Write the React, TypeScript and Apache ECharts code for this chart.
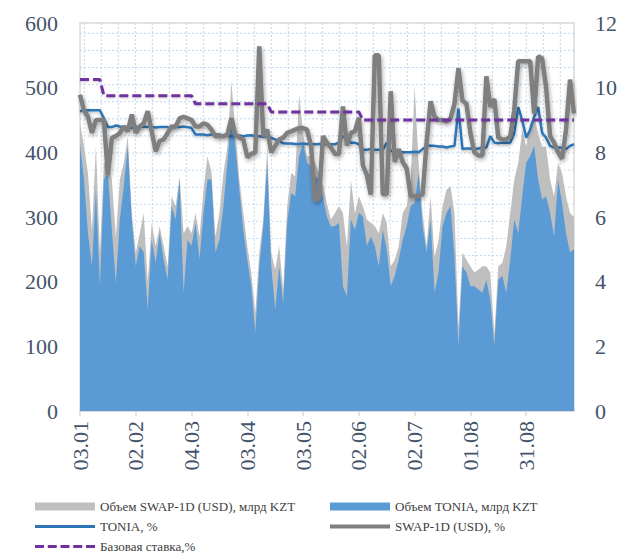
import React, { useEffect, useRef } from "react";
import * as echarts from "echarts";

const tickLabels = ["03.01", "02.02", "04.03", "03.04", "03.05", "02.06", "02.07", "01.08", "31.08"];

// Объем SWAP-1D (USD), млрд KZT (left axis)
const volSwap = [
  445, 410, 368, 280, 410, 245, 384, 384, 358, 270,
  358, 384, 425, 306, 245, 275, 306, 200, 291, 255,
  286, 255, 224, 332, 317, 363, 275, 286, 275, 306,
  270, 342, 394, 370, 270, 306, 368, 409, 510, 435,
  358, 306, 255, 214, 152, 245, 296, 409, 245, 219,
  255, 188, 317, 368, 363, 490, 430, 394, 394, 384,
  368, 350, 320, 296, 306, 317, 306, 255, 358, 306, 332,
  317, 296, 291, 286, 275, 306, 291, 224, 234, 255,
  306, 317, 358, 502, 384, 306, 255, 332, 239, 265,
  317, 342, 348, 306, 130, 245, 234, 224, 214, 219,
  224, 224, 214, 120, 224, 229, 255, 306, 358, 384,
  435, 409, 445, 456, 430, 409, 409, 358, 332, 384,
  368, 332, 306, 300,
];

// Объем TONIA, млрд KZT (left axis)
const volTonia = [
  412, 358, 275, 224, 342, 193, 358, 368, 280, 198,
  296, 348, 410, 296, 224, 255, 245, 157, 265, 229,
  275, 234, 203, 317, 296, 358, 183, 265, 255, 291,
  234, 306, 358, 358, 245, 265, 317, 384, 456, 410,
  342, 280, 234, 193, 121, 224, 286, 384, 224, 157,
  224, 167, 291, 337, 332, 394, 415, 384, 379, 363,
  358, 330, 300, 285, 286, 291, 193, 178, 296, 280, 306,
  301, 255, 270, 255, 224, 280, 250, 193, 209, 234,
  265, 286, 317, 322, 368, 286, 245, 296, 183, 214,
  286, 306, 317, 239, 100, 224, 214, 193, 193, 188,
  183, 203, 172, 100, 203, 209, 183, 234, 296, 275,
  332, 384, 394, 410, 358, 327, 332, 306, 270, 358,
  322, 275, 245, 250,
];

// TONIA, % (right axis)
const toniaRate = [
  9.27, 9.3, 9.3, 9.3, 9.3, 9.3,
  9.05, 8.78, 8.78, 8.83, 8.8,
  8.78, 8.78, 8.76, 8.78, 8.78, 8.8, 8.78, 8.78, 8.77, 8.78, 8.78, 8.78, 8.76, 8.78, 8.78, 8.8, 8.78,
  8.75,
  8.55, 8.55, 8.55, 8.53, 8.55, 8.55, 8.55, 8.52, 8.52, 8.5, 8.52, 8.52, 8.5, 8.52, 8.53,
  8.5, 8.5, 8.48, 8.5,
  8.45, 8.4, 8.35,
  8.28, 8.27, 8.27, 8.26, 8.26, 8.27, 8.26, 8.26, 8.25, 8.26, 8.26,
  8.26,
  8.25, 8.25,
  8.3, 8.5, 8.45, 8.3, 8.3, 8.25,
  8.08, 8.08, 8.1, 8.08, 8.08, 8.08,
  8.3, 8.05,
  8.0, 8.02, 8.0, 8.0, 8.0, 8.02, 8.0,
  8.1,
  8.2, 8.2, 8.2,
  8.18, 8.18, 8.15, 8.18, 8.2,
  9.35, 8.1,
  8.12, 8.12, 8.1, 8.12,
  8.15, 8.15, 8.5, 8.3,
  8.28, 8.3, 8.3, 8.3,
  8.6, 9.4, 9.0, 8.45, 8.7, 9.1, 9.4, 8.6, 8.45, 8.2, 8.15, 8.15, 8.15, 8.1, 8.2, 8.25,
];

// SWAP-1D (USD), % (right axis)
const swapRate = [
  9.78, 9.3, 9.1, 8.6, 9.0, 9.0, 9.0, 7.3, 8.45, 8.5,
  8.6, 8.8, 8.65, 9.17, 8.6, 8.8, 8.9, 9.27, 8.65, 8.03,
  8.35, 8.4, 8.6, 8.8, 8.8, 9.05, 9.1, 9.05, 9.0, 8.8,
  8.8, 8.9, 8.85, 8.7, 8.5, 8.5, 8.5, 8.55, 9.05, 8.55,
  8.45, 8.4, 7.85, 7.95, 8.0, 11.28, 8.5, 8.7, 8.0, 8.2,
  8.4, 8.45, 8.6, 8.65, 8.7, 8.75, 8.75, 8.7, 8.2, 6.5,
  6.6, 8.5, 8.3, 8.15, 7.95, 7.95, 9.42, 8.2, 8.6, 8.65, 9.07,
  7.6, 7.3, 6.69, 11.0, 11.0, 6.7, 6.7, 9.89, 7.7, 8.1,
  7.7, 7.5, 6.65, 6.65, 6.65, 6.7, 8.3, 9.58, 9.1, 9.0,
  9.0, 8.95, 9.05, 9.5, 10.6, 9.6, 9.5, 8.6, 8.0, 7.9,
  7.9, 10.35, 9.4, 9.65, 8.45, 8.4, 8.4, 8.5, 9.3, 10.82,
  10.82, 10.82, 10.82, 9.2, 10.97, 10.9, 10.0, 8.5, 8.3, 8.0,
  7.8, 8.7, 10.25, 9.2,
];

// Базовая ставка, % (right axis)
const baseRate = [
  10.25, 10.25, 10.25, 10.25, 10.25, 10.25,
  9.75, 9.75, 9.75, 9.75, 9.75, 9.75, 9.75, 9.75, 9.75, 9.75, 9.75, 9.75,
  9.75, 9.75, 9.75, 9.75, 9.75, 9.75, 9.75, 9.75, 9.75, 9.75, 9.75,
  9.5, 9.5, 9.5, 9.5, 9.5, 9.5, 9.5, 9.5, 9.5, 9.5,
  9.5, 9.5, 9.5, 9.5, 9.5, 9.5, 9.5, 9.5, 9.5,
  9.25, 9.25, 9.25, 9.25, 9.25, 9.25, 9.25, 9.25, 9.25, 9.25, 9.25, 9.25,
  9.25, 9.25, 9.25, 9.25, 9.25, 9.25, 9.25, 9.25, 9.25, 9.25, 9.25,
  9.0, 9.0, 9.0, 9.0, 9.0, 9.0, 9.0, 9.0, 9.0, 9.0,
  9.0, 9.0, 9.0, 9.0, 9.0, 9.0, 9.0, 9.0, 9.0, 9.0,
  9.0, 9.0, 9.0, 9.0, 9.0, 9.0, 9.0, 9.0, 9.0, 9.0,
  9.0, 9.0, 9.0, 9.0, 9.0, 9.0, 9.0, 9.0, 9.0, 9.0,
  9.0, 9.0, 9.0, 9.0, 9.0, 9.0, 9.0, 9.0, 9.0, 9.0,
  9.0, 9.0, 9.0, 9.0,
];

const names = {
  volSwap: "Объем SWAP-1D (USD), млрд KZT",
  volTonia: "Объем TONIA, млрд KZT",
  tonia: "TONIA, %",
  swap: "SWAP-1D (USD), %",
  base: "Базовая ставка,%",
};

const FONT = "'Liberation Serif', 'Times New Roman', serif";
const AXIS_TEXT = "#44546A";
const DASH_ICON =
  "path://M0 0h9v3H0z M12.75 0h9v3h-9z M25.5 0h9v3h-9z M38.25 0h9v3h-9z M51 0h9v3h-9z";

export default function App() {
  const ref = useRef<HTMLDivElement>(null);

  useEffect(() => {
    if (!ref.current) return;
    const chart = echarts.init(ref.current, null, { renderer: "svg" });

    const gLeft = 80;
    const gTop = 23;
    const gWidth = 494;
    const gHeight = 388;

    // dotted pattern fill of the plot area
    const pattern: any[] = [];
    for (let x = gLeft + 4.3; x < gLeft + gWidth - 1; x += 17) {
      pattern.push({
        type: "line",
        silent: true,
        z: 0,
        shape: { x1: x, y1: gTop, x2: x, y2: gTop + gHeight },
        style: { stroke: "#BDD7EE", lineWidth: 1, lineDash: [2, 2] },
      });
    }
    for (let y = gTop + 10.3; y < gTop + gHeight - 1; y += 17.1) {
      pattern.push({
        type: "line",
        silent: true,
        z: 0,
        shape: { x1: gLeft, y1: y, x2: gLeft + gWidth, y2: y },
        style: { stroke: "#BDD7EE", lineWidth: 1, lineDash: [2, 2] },
      });
    }

    const categories = volSwap.map((_, i) => "d" + i);
    const legendText = { fontSize: 13, color: "#404040", fontFamily: FONT };
    const legendItem = (name: string, left: number, top: number, icon: string, h: number, color: string) => ({
      left,
      top,
      padding: 0,
      itemWidth: 60,
      itemHeight: h,
      itemGap: 0,
      textStyle: legendText,
      data: [{ name, icon, itemStyle: { color, borderWidth: 0 } }],
    });

    chart.setOption({
      animation: false,
      backgroundColor: "#ffffff",
      textStyle: { fontFamily: FONT },
      graphic: pattern,
      grid: {
        left: gLeft,
        top: gTop,
        width: gWidth,
        height: gHeight,
        show: true,
        borderColor: "#D9D9D9",
        borderWidth: 1.5,
        backgroundColor: "transparent",
      },
      legend: [
        legendItem(names.volSwap, 35, 500, "rect", 8, "#BFBFBF"),
        legendItem(names.volTonia, 330, 500, "rect", 8, "#5B9BD5"),
        legendItem(names.tonia, 35, 520, "rect", 3, "#2E75B6"),
        legendItem(names.swap, 330, 520, "rect", 4, "#7F7F7F"),
        legendItem(names.base, 35, 540, DASH_ICON, 3, "#7030A0"),
      ],
      xAxis: {
        type: "category",
        data: categories,
        boundaryGap: false,
        axisLine: { show: true, lineStyle: { color: "#D9D9D9", width: 1.5 } },
        axisTick: { show: true, interval: 13, length: 5, lineStyle: { color: "#D9D9D9", width: 1.5 } },
        axisLabel: {
          interval: 13,
          rotate: 90,
          margin: 10,
          color: AXIS_TEXT,
          fontSize: 22,
          fontFamily: FONT,
          formatter: (_v: string, idx: number) => (idx % 14 === 0 ? tickLabels[idx / 14] ?? "" : ""),
        },
        splitLine: { show: false },
      },
      yAxis: [
        {
          type: "value",
          min: 0,
          max: 600,
          interval: 100,
          axisLine: { show: false },
          axisTick: { show: false },
          splitLine: { show: false },
          axisLabel: { color: AXIS_TEXT, fontSize: 22, fontFamily: FONT, margin: 22 },
        },
        {
          type: "value",
          position: "right",
          min: 0,
          max: 12,
          interval: 2,
          axisLine: { show: false },
          axisTick: { show: false },
          splitLine: { show: false },
          axisLabel: { color: AXIS_TEXT, fontSize: 22, fontFamily: FONT, margin: 21 },
        },
      ],
      series: [
        {
          name: names.volSwap,
          type: "line",
          yAxisIndex: 0,
          data: volSwap,
          symbol: "none",
          lineStyle: { width: 0, color: "#BFBFBF" },
          itemStyle: { color: "#BFBFBF" },
          areaStyle: {
            color: "#BFBFBF",
            opacity: 1,
            shadowColor: "rgba(255,255,255,0.95)",
            shadowBlur: 8,
            shadowOffsetY: -2,
          },
          z: 2,
        },
        {
          name: names.volTonia,
          type: "line",
          yAxisIndex: 0,
          data: volTonia,
          symbol: "none",
          lineStyle: { width: 0, color: "#5B9BD5" },
          itemStyle: { color: "#5B9BD5" },
          areaStyle: { color: "#5B9BD5", opacity: 1 },
          z: 3,
        },
        {
          name: names.tonia,
          type: "line",
          yAxisIndex: 1,
          data: toniaRate,
          symbol: "none",
          itemStyle: { color: "#2E75B6" },
          lineStyle: {
            color: "#2E75B6",
            width: 2.5,
            shadowColor: "rgba(0,0,0,0.25)",
            shadowBlur: 3,
            shadowOffsetY: 1.5,
          },
          z: 4,
        },
        {
          name: names.swap,
          type: "line",
          yAxisIndex: 1,
          data: swapRate,
          symbol: "none",
          itemStyle: { color: "#7F7F7F" },
          lineStyle: {
            color: "#7F7F7F",
            width: 4.5,
            shadowColor: "rgba(0,0,0,0.35)",
            shadowBlur: 4,
            shadowOffsetX: 1,
            shadowOffsetY: 2,
          },
          z: 5,
        },
        {
          name: names.base,
          type: "line",
          yAxisIndex: 1,
          data: baseRate,
          symbol: "none",
          itemStyle: { color: "#7030A0" },
          lineStyle: {
            color: "#7030A0",
            width: 3,
            type: [9, 4],
            shadowColor: "rgba(0,0,0,0.2)",
            shadowBlur: 2,
            shadowOffsetY: 1,
          },
          z: 6,
        },
      ],
    });

    return () => {
      chart.dispose();
    };
  }, []);

  return (
    <div
      ref={ref}
      style={{ position: "fixed", left: 0, top: 0, width: 621, height: 554, background: "#fff" }}
    />
  );
}
